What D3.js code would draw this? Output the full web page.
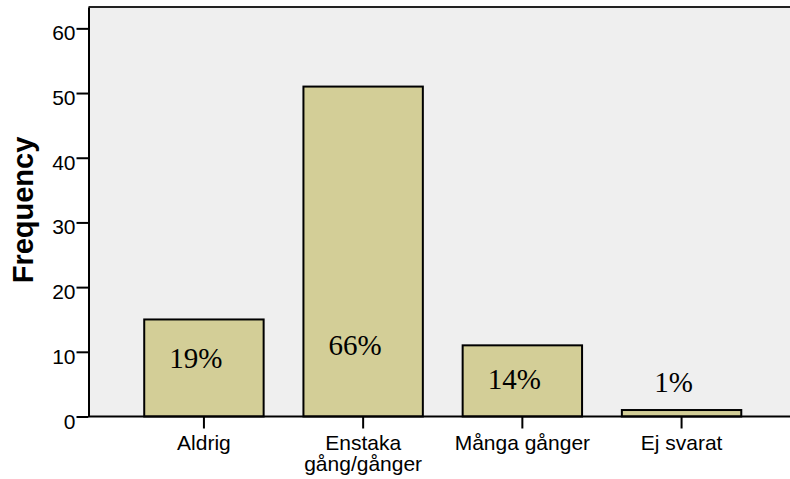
<!DOCTYPE html>
<html>
<head>
<meta charset="utf-8">
<script src="https://cdn.jsdelivr.net/npm/d3@7"></script>
<style>
  body { margin: 0; background: #fff; }
  text { font-family: "Liberation Sans", Arial, sans-serif; }
</style>
</head>
<body>
<svg width="790" height="479"></svg>
<script>
// data
var categories = ["Aldrig", "Enstaka\ngång/gånger", "Många gånger", "Ej svarat"];
var counts = [15, 51, 11, 1];
var percents = ["19%", "66%", "14%", "1%"];
var yTicks = [0, 10, 20, 30, 40, 50, 60];

// where the % labels sit, in frequency units (SPSS put them by hand)
var labelAt = [7.5, 9.5, 4.2, 3.8];

var svg = d3.select("svg");

var plotLeft = 88.5, plotTop = 7, plotBottom = 416.5, plotRight = 790;

var x = d3.scaleBand()
  .domain(categories)
  .range([plotLeft, 797])
  .paddingInner(0.25)
  .paddingOuter(0.35);

var y = d3.scaleLinear()
  .domain([0, 63.3])
  .range([plotBottom, plotTop]);

// plot background
svg.append("rect")
  .attr("x", plotLeft).attr("y", plotTop)
  .attr("width", plotRight - plotLeft).attr("height", plotBottom - plotTop)
  .attr("fill", "#efefef");

// top frame line
svg.append("line")
  .attr("x1", plotLeft).attr("x2", plotRight)
  .attr("y1", plotTop).attr("y2", plotTop)
  .attr("stroke", "#222").attr("stroke-width", 2);

// bars
svg.selectAll("rect.bar")
  .data(counts)
  .enter().append("rect")
  .attr("class", "bar")
  .attr("x", function(d, i) { return x(categories[i]); })
  .attr("y", function(d) { return y(d); })
  .attr("width", x.bandwidth())
  .attr("height", function(d) { return plotBottom - y(d); })
  .attr("fill", "#d3ce97")
  .attr("stroke", "#000")
  .attr("stroke-width", 2);

// percentage labels
svg.selectAll("text.pct")
  .data(percents)
  .enter().append("text")
  .attr("class", "pct")
  .attr("x", function(d, i) { return x(categories[i]) + x.bandwidth() / 2 - 8; })
  .attr("y", function(d, i) { return y(labelAt[i]); })
  .attr("text-anchor", "middle")
  .style("font-family", "'Liberation Serif', 'Times New Roman', serif")
  .style("font-size", "29px")
  .attr("fill", "#000")
  .text(function(d) { return d; });

// y axis
var yAxis = svg.append("g")
  .attr("transform", "translate(" + plotLeft + ",0)")
  .call(d3.axisLeft(y).tickValues(yTicks).tickSize(12).tickSizeOuter(0).tickPadding(1));
yAxis.select(".domain").attr("stroke", "#000").attr("stroke-width", 2);
yAxis.selectAll(".tick line").attr("stroke", "#000").attr("stroke-width", 2);
yAxis.selectAll(".tick text")
  .attr("dy", "0.55em")
  .style("font-size", "21px")
  .attr("fill", "#000");

// x axis
var xAxis = svg.append("g")
  .attr("transform", "translate(0," + plotBottom + ")")
  .call(d3.axisBottom(x).tickSize(12).tickSizeOuter(0).tickPadding(7));
xAxis.select(".domain")
  .attr("d", "M" + plotLeft + ",0H" + plotRight)
  .attr("stroke", "#000").attr("stroke-width", 2);
xAxis.selectAll(".tick line").attr("stroke", "#000").attr("stroke-width", 2);
xAxis.selectAll(".tick text")
  .style("font-size", "21px")
  .attr("fill", "#000")
  .each(function(d) {
    var t = d3.select(this), lines = d.split("\n");
    t.text(null);
    lines.forEach(function(s, k) {
      t.append("tspan")
        .attr("x", 0)
        .attr("dy", k === 0 ? "0.71em" : "1.0em")
        .text(s);
    });
  })
  .attr("dy", null);

// y title
svg.append("text")
  .attr("transform", "translate(33,210) rotate(-90)")
  .attr("text-anchor", "middle")
  .style("font-size", "29px")
  .style("font-weight", "bold")
  .attr("fill", "#000")
  .text("Frequency");
</script>
</body>
</html>
